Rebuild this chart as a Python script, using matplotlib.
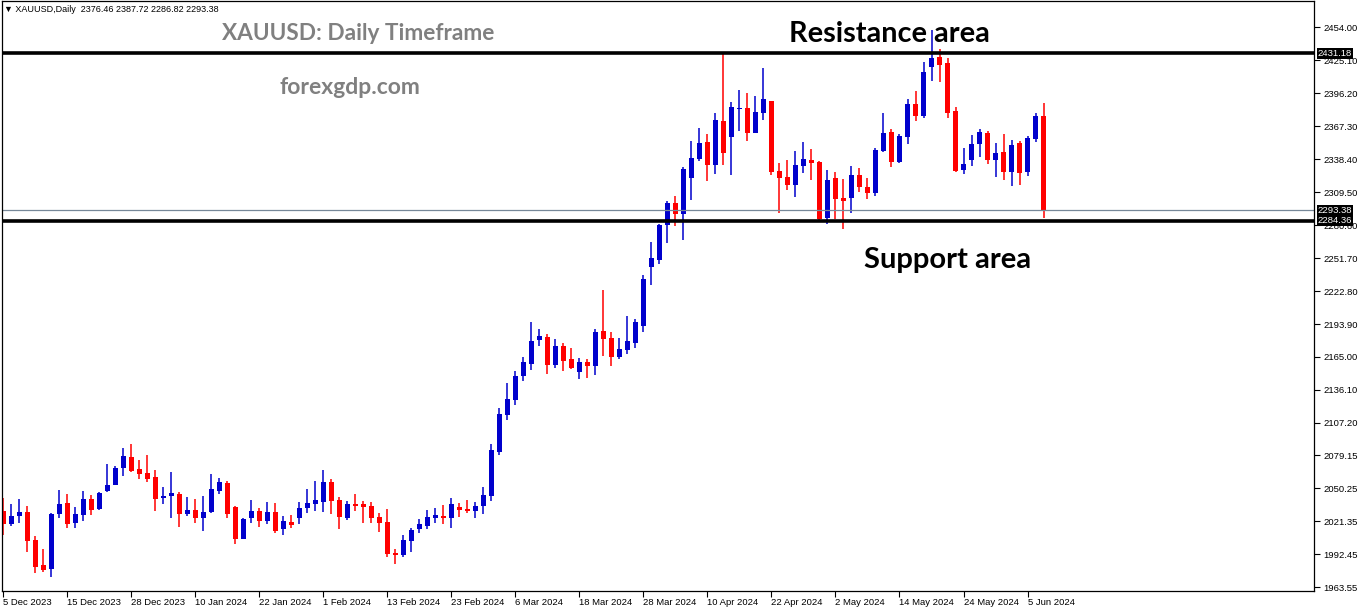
import numpy as np
import matplotlib.pyplot as plt
import pandas as pd

# daily bars, 5 Dec 2023 .. 7 Jun 2024 (no bar on 25 Dec, 1 Jan, 29 Mar)
dates = pd.bdate_range('2023-12-05', '2024-06-07')
dates = dates.drop(pd.to_datetime(['2023-12-25', '2024-01-01', '2024-03-29']))

opens = [2030.1, 2019.0, 2026.0, 2029.2, 2004.7, 1982.8, 1979.6, 2027.8, 2037.1, 2019.9,
         2026.9, 2040.6, 2031.9, 2047.6, 2053.2, 2068.0, 2077.4, 2066.9, 2063.4, 2059.9,
         2041.8, 2043.5, 2045.0, 2027.8, 2031.0, 2024.3, 2029.2, 2047.9, 2054.6, 2033.9,
         2005.9, 2024.3, 2030.1, 2021.6, 2029.2, 2014.6, 2020.5, 2024.3, 2033.0, 2036.5,
         2038.3, 2055.5, 2039.8, 2024.3, 2036.3, 2036.3, 2034.5, 2024.9, 2020.5, 1993.3,
         1991.8, 2004.1, 2014.6, 2017.2, 2024.3, 2025.7, 2024.3, 2033.6, 2031.9, 2030.4,
         2034.8, 2043.5, 2082.1, 2114.5, 2127.6, 2148.6, 2158.9, 2180.2, 2182.6, 2158.3,
         2174.6, 2162.9, 2152.1, 2160.6, 2157.4, 2187.9, 2181.7, 2165.3, 2171.4, 2177.2,
         2192.1, 2244.1, 2250.2, 2281.0, 2300.0, 2290.6, 2321.7, 2338.3, 2353.0, 2333.1,
         2371.7, 2357.9, 2382.5, 2383.1, 2361.4, 2379.0, 2389.2, 2327.9, 2322.6, 2315.9,
         2332.5, 2337.5, 2335.8, 2287.0, 2321.8, 2304.2, 2304.5, 2324.4, 2313.9, 2308.9,
         2345.4, 2362.1, 2335.8, 2357.9, 2386.6, 2376.3, 2419.2, 2427.7, 2422.5, 2380.4,
         2329.0, 2337.8, 2351.8, 2361.2, 2337.8, 2344.5, 2327.3, 2352.4, 2327.3, 2356.2,
         2376.46]
highs = [2041.8, 2036.3, 2040.6, 2034.5, 2008.2, 1996.8, 2028.6, 2048.5, 2045.0, 2033.6,
         2047.6, 2044.1, 2046.8, 2071.3, 2069.5, 2085.3, 2088.8, 2074.8, 2079.2, 2066.0,
         2051.1, 2064.3, 2046.8, 2042.4, 2040.6, 2043.3, 2062.5, 2059.0, 2056.4, 2034.5,
         2024.0, 2039.8, 2032.7, 2038.0, 2037.1, 2025.7, 2026.6, 2038.0, 2049.4, 2056.4,
         2066.0, 2058.1, 2042.4, 2038.9, 2045.0, 2038.9, 2038.0, 2028.4, 2031.9, 1996.8,
         2009.1, 2015.2, 2023.1, 2031.0, 2032.7, 2035.4, 2041.5, 2037.1, 2039.8, 2038.0,
         2051.1, 2088.8, 2120.3, 2142.2, 2152.7, 2165.0, 2195.4, 2189.6, 2185.2, 2180.8,
         2177.3, 2172.9, 2164.1, 2162.9, 2189.6, 2223.7, 2187.0, 2181.7, 2200.6, 2198.0,
         2236.5, 2265.7, 2281.6, 2301.7, 2306.4, 2331.5, 2353.8, 2365.5, 2360.3, 2378.7,
         2431.2, 2388.3, 2398.8, 2396.2, 2393.6, 2418.1, 2389.2, 2334.9, 2337.4, 2345.4,
         2353.3, 2347.2, 2336.6, 2328.8, 2327.0, 2320.9, 2332.3, 2330.5, 2321.8, 2348.0,
         2378.7, 2364.7, 2360.3, 2391.0, 2398.0, 2423.4, 2451.4, 2434.7, 2426.9, 2383.9,
         2348.0, 2359.4, 2364.7, 2362.9, 2352.1, 2360.3, 2355.0, 2353.8, 2358.5, 2378.7,
         2387.72]
lows = [2009.4, 2017.2, 2019.9, 1994.5, 1976.1, 1976.7, 1972.6, 2024.3, 2015.5, 2015.5,
        2021.6, 2026.9, 2031.3, 2046.8, 2053.2, 2060.8, 2064.5, 2058.1, 2055.5, 2030.4,
        2036.5, 2024.3, 2016.1, 2026.0, 2019.9, 2012.9, 2028.6, 2045.3, 2024.3, 2001.5,
        2005.9, 2019.9, 2016.4, 2019.0, 2011.1, 2009.4, 2015.5, 2019.0, 2028.6, 2030.4,
        2029.5, 2027.8, 2014.6, 2022.5, 2030.4, 2019.9, 2019.9, 2012.0, 1990.1, 1984.0,
        1990.1, 1994.5, 2011.1, 2014.6, 2019.9, 2019.0, 2015.5, 2025.1, 2028.6, 2024.3,
        2027.8, 2039.1, 2079.4, 2110.1, 2123.2, 2144.2, 2153.6, 2174.9, 2150.5, 2155.7,
        2153.0, 2154.8, 2146.0, 2146.9, 2149.5, 2166.1, 2157.4, 2163.5, 2167.9, 2173.1,
        2186.8, 2228.3, 2246.7, 2265.1, 2280.1, 2267.6, 2302.8, 2336.6, 2319.1, 2325.5,
        2333.1, 2324.7, 2363.2, 2354.4, 2361.4, 2372.8, 2324.7, 2291.4, 2311.3, 2305.1,
        2326.1, 2320.0, 2284.5, 2281.7, 2285.6, 2277.4, 2291.4, 2309.8, 2303.7, 2306.3,
        2344.5, 2331.7, 2334.9, 2351.8, 2371.7, 2374.6, 2407.0, 2406.1, 2374.6, 2327.3,
        2325.5, 2332.5, 2340.4, 2334.3, 2322.9, 2320.3, 2315.0, 2315.9, 2323.8, 2353.6,
        2286.82]
closes = [2019.0, 2025.7, 2029.2, 2004.1, 1981.3, 1978.4, 2027.5, 2036.3, 2019.0, 2027.5,
          2040.6, 2031.3, 2045.9, 2052.9, 2067.8, 2078.3, 2065.4, 2062.8, 2058.1, 2040.9,
          2043.3, 2045.9, 2027.8, 2031.0, 2024.3, 2029.2, 2049.4, 2055.5, 2027.8, 2005.9,
          2023.1, 2030.1, 2021.6, 2029.2, 2012.9, 2021.4, 2018.1, 2032.7, 2037.1, 2039.8,
          2055.5, 2039.1, 2025.1, 2036.3, 2034.8, 2033.9, 2024.3, 2019.9, 1992.7, 1991.8,
          2004.7, 2013.5, 2018.7, 2024.9, 2026.6, 2024.3, 2036.3, 2031.3, 2030.1, 2034.5,
          2044.1, 2083.5, 2115.1, 2128.2, 2148.4, 2160.6, 2178.7, 2183.5, 2158.3, 2174.6,
          2161.8, 2155.7, 2160.6, 2157.4, 2187.0, 2181.1, 2165.3, 2172.0, 2178.7, 2195.4,
          2233.0, 2251.7, 2280.7, 2300.0, 2290.6, 2329.8, 2338.9, 2352.1, 2333.1, 2372.6,
          2343.9, 2383.9, 2383.1, 2361.4, 2379.6, 2391.0, 2327.3, 2321.7, 2315.9, 2333.1,
          2338.4, 2335.2, 2285.6, 2320.0, 2303.7, 2301.9, 2324.4, 2314.1, 2308.9, 2346.3,
          2361.2, 2335.8, 2358.5, 2386.6, 2376.3, 2414.6, 2426.9, 2421.0, 2379.0, 2328.2,
          2334.0, 2351.2, 2362.1, 2337.8, 2343.7, 2327.3, 2350.7, 2326.4, 2356.8, 2376.1,
          2293.38]

resistance = 2431.18
support = 2284.36
price_ticks = [2454.00, 2425.10, 2396.20, 2367.30, 2338.40, 2309.50, 2280.60, 2251.70,
               2222.80, 2193.90, 2165.00, 2136.10, 2107.20, 2079.15, 2050.25, 2021.35,
               1992.45, 1963.55]

o = np.array(opens)
h = np.array(highs)
l = np.array(lows)
c = np.array(closes)
x = np.arange(len(dates))
up = c >= o
colors = np.where(up, '#0000cc', '#ff0000')

W, H = 1362, 611
fig = plt.figure(figsize=(W / 100, H / 100), dpi=100)
ax = fig.add_axes([2 / W, (H - 591) / H, 1312 / W, 590 / H])

ax.vlines(x, l, h, colors=colors, linewidth=1.1)
body = np.maximum(np.abs(c - o), 0.6)
ax.bar(x, body, bottom=np.minimum(o, c), width=0.63, color=colors, linewidth=0)

ax.axhline(resistance, color='black', linewidth=2.6)
ax.axhline(support, color='black', linewidth=2.6)
ax.axhline(closes[-1], color='#778899', linewidth=0.9)

ax.set_xlim(-0.16, 163.8)
ax.set_ylim(1960.05, 2476.8)

axis_font = dict(family='Liberation Sans', size=6.8)

ax.yaxis.tick_right()
ax.set_yticks(price_ticks)
ax.set_yticklabels(['{:.2f}'.format(v) for v in price_ticks], fontdict=axis_font)
ax.tick_params(axis='y', direction='out', length=4, width=0.8, pad=3)

xt = x[::8]
ax.set_xticks(xt)
ax.set_xticklabels([f'{d.day} {d:%b %Y}' for d in dates[::8]], ha='left', fontdict=axis_font)
ax.tick_params(axis='x', direction='out', length=4, width=0.8, pad=1)
for s in ax.spines.values():
    s.set_linewidth(0.9)

# price boxes on the scale
for val in [resistance, closes[-1], support]:
    ax.text(1.003, val, '{:.2f}'.format(val), transform=ax.get_yaxis_transform(),
            color='white', va='center', ha='left', clip_on=False, fontdict=axis_font,
            bbox=dict(boxstyle='square,pad=0.1', facecolor='black', edgecolor='none'))

fig.text(4 / W, 1 - 9 / H, '\u25bc XAUUSD,Daily  2376.46 2387.72 2286.82 2293.38',
         fontsize=6.5, family=['Liberation Sans', 'DejaVu Sans'], va='center', ha='left')
fig.text(358 / W, 1 - 34 / H, 'XAUUSD: Daily Timeframe', fontsize=16.3, color='#808080',
         fontweight='bold', family='Lato', ha='center', va='center')
fig.text(350 / W, 1 - 88 / H, 'forexgdp.com', fontsize=16.5, color='#808080',
         fontweight='bold', family='Lato', ha='center', va='center')
fig.text(889 / W, 1 - 34 / H, 'Resistance area', fontsize=20.8, color='black',
         fontweight='bold', family='Lato', ha='center', va='center')
fig.text(948 / W, 1 - 260 / H, 'Support area', fontsize=21, color='black',
         fontweight='bold', family='Lato', ha='center', va='center')

fig.savefig('out.png', dpi=100)
